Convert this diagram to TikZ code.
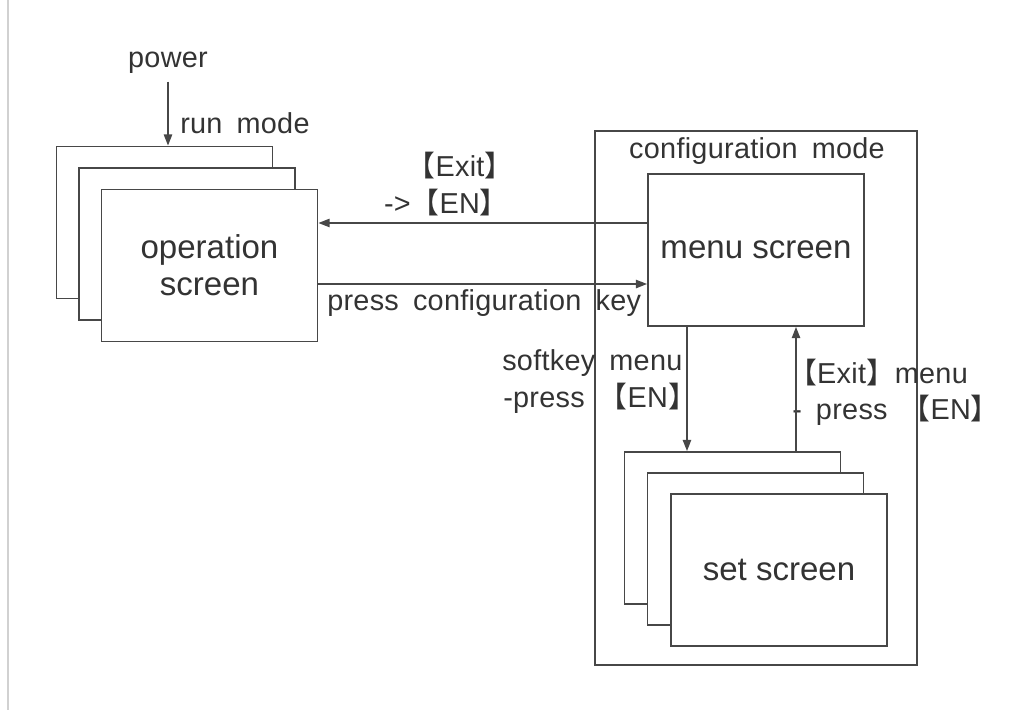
\documentclass[tikz,border=0pt]{standalone}
\usepackage{fontspec}
\setmainfont{Liberation Sans}
\newfontfamily\lblfam{Liberation Sans}[LetterSpace=1, WordSpace=1.7]
\newfontfamily\cjk{Noto Sans CJK SC}
\usetikzlibrary{arrows.meta}

\newcommand{\openbr}{{\cjk 【}}
\newcommand{\closebr}{{\cjk 】}}
\newcommand{\lblfont}{\lblfam\fontsize{20.5}{23}\selectfont}
\newcommand{\boxfont}{\fontsize{23.5}{26.5}\selectfont}

\tikzset{
  screen/.style={draw=black!72, fill=white, line width=1.3pt, minimum width=5.4cm, minimum height=3.8cm, inner sep=0pt, font=\boxfont, text=black!80, align=center},
  lbl/.style={font=\lblfont, text=black!80, inner sep=0pt},
  flow/.style={-{Triangle[length=8pt, width=6pt]}, draw=black!72, line width=1pt},
}

\begin{document}
\begin{tikzpicture}[x=0.025cm, y=-0.025cm]
  \useasboundingbox (0,0) rectangle (1015,710);
  \draw[black!18, line width=1.2pt] (8,0) -- (8,710);

  % run mode stack
  \node[screen] (op3) at (164.5,222.5) {};
  \node[screen] (op2) at (187,244) {};
  \node[screen] (op) at (209.5,265.5) {operation\\screen};
  \node[lbl, anchor=base] (pwr) at (168,67) {power};
  \node[lbl, anchor=base west] (run) at (180,133) {run mode};

  % configuration mode
  \node[draw=black!72, line width=1.3pt, minimum width=8.05cm, minimum height=13.35cm, inner sep=0pt] (cfg) at (756,398) {};
  \node[lbl, anchor=base] (cfgtitle) at (757,158) {configuration mode};
  \node[screen] (menu) at (756,250) {menu screen};
  \node[screen] (set3) at (732.5,528) {};
  \node[screen] (set2) at (755.5,549) {};
  \node[screen] (set) at (779,570) {set screen};

  % labels
  \node[lbl, anchor=base] (exitlbl) at (460,176) {\openbr Exit\closebr};
  \node[lbl, anchor=base east] (enlbl) at (509,213) {->\openbr EN\closebr};
  \node[lbl, anchor=base west] (keylbl) at (327,310) {press configuration key};
  \node[lbl, anchor=base west] (softlbl) at (502,370) {softkey menu};
  \node[lbl, anchor=base west] (soften) at (503,407) {-press \openbr EN\closebr};
  \node[lbl, anchor=base west] (backlbl) at (788,383) {\openbr Exit\closebr menu};
  \node[lbl, anchor=base west] (backen) at (792,419) {-\ press \openbr EN\closebr};

  % arrows
  \draw[flow, shorten <=6pt] (pwr.south) -- (pwr.south |- op3.north);
  \draw[flow] ([yshift=0.675cm]menu.west) -- ([yshift=0.675cm]menu.west -| op.east);
  \draw[flow] ([yshift=-0.85cm]menu.west -| op.east) -- ([yshift=-0.85cm]menu.west);
  \draw[flow] ([xshift=-1.725cm]menu.south) -- ([xshift=-1.725cm]menu.south |- set3.north);
  \draw[flow] ([xshift=1cm]menu.south |- set3.north) -- ([xshift=1cm]menu.south);
\end{tikzpicture}
\end{document}
